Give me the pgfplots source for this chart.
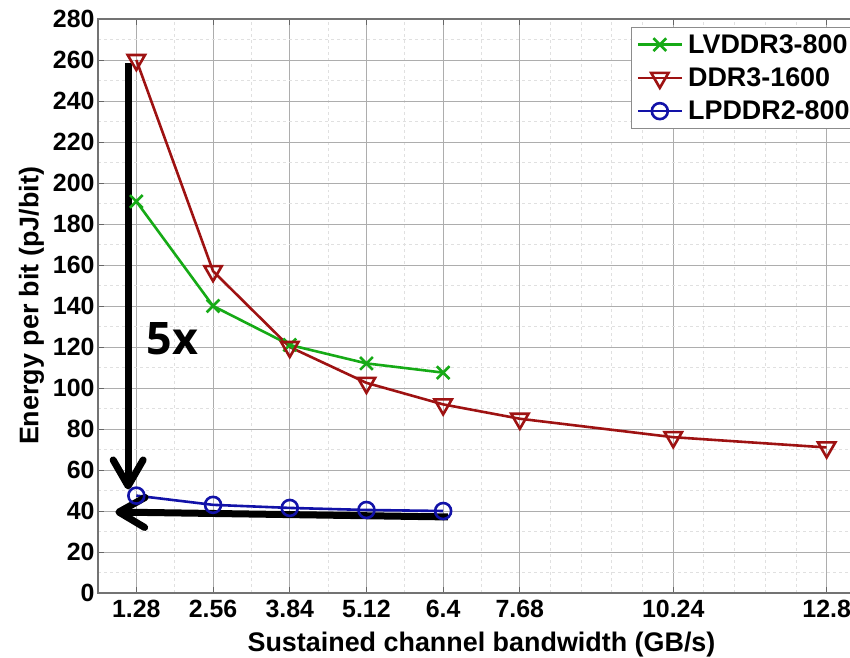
\documentclass[border=0pt]{standalone}
\usepackage{fontspec}
\setmainfont{Liberation Sans}
\newfontfamily\osb{Open Sans}
\usepackage{pgfplots}
\pgfplotsset{compat=1.18}
\usetikzlibrary{arrows.meta}
\definecolor{cgreen}{RGB}{22,170,22}
\definecolor{cred}{RGB}{158,18,18}
\definecolor{cblue}{RGB}{18,18,168}
\begin{document}
\begin{tikzpicture}
\begin{axis}[
  scale only axis, width=767bp, height=574bp,
  xmin=0.64, xmax=13.44, ymin=0, ymax=280,
  xtick={1.28,2.56,3.84,5.12,6.4,7.68,10.24,12.8},
  xticklabels={1.28,2.56,3.84,5.12,6.4,7.68,10.24,12.8},
  minor xtick={1.92,3.2,4.48,5.76,7.04,8.192,8.704,9.216,9.728,10.752,11.264,11.776,12.288},
  ytick={0,20,...,280},
  minor ytick={10,30,...,270},
  grid=both,
  major grid style={black!32, line width=0.9bp},
  minor grid style={black!12, dashed, line width=0.9bp},
  tick align=inside, major tick length=6bp, minor tick length=0bp,
  tick style={black!60, line width=0.9bp},
  axis line style={black!55, line width=1.2bp},
  /pgf/number format/assume math mode=true,
  tick label style={font=\fontsize{25}{25}\selectfont\bfseries},
  xticklabel style={yshift=-4bp},
  xlabel={Sustained channel bandwidth (GB/s)},
  ylabel={Energy per bit (pJ/bit)},
  xlabel style={font=\fontsize{27}{27}\selectfont\bfseries, yshift=-7bp},
  ylabel style={font=\fontsize{27}{27}\selectfont\bfseries, yshift=2bp},
  legend style={at={(0.695,0.986)}, anchor=north west, draw=black!45, line width=0.9bp,
    font=\fontsize{27}{27}\selectfont\bfseries, row sep=9bp, inner sep=5bp,
    legend cell align=left, nodes={inner xsep=5bp}},
  legend image code/.code={\draw[mark repeat=2,mark phase=2] plot coordinates {(0bp,0bp) (22bp,0bp) (44bp,0bp)};},
]
\coordinate (A) at (rel axis cs:0,0);
\addplot[cgreen, line width=2.6bp, mark=x, mark size=9bp, mark options={line width=2.6bp}]
  coordinates {(1.28,191) (2.56,140) (3.84,121) (5.12,112) (6.4,107.5)};
\addlegendentry{LVDDR3-800}
\addplot[cred, line width=2.6bp, mark=triangle, mark size=10bp, mark options={rotate=180, line width=2.6bp, fill=none}]
  coordinates {(1.28,260) (2.56,157) (3.84,120) (5.12,102.5) (6.4,92) (7.68,85) (10.24,76) (12.8,71)};
\addlegendentry{DDR3-1600}
\addplot[cblue, line width=2.6bp, mark=o, mark size=8bp, mark options={line width=2.6bp}]
  coordinates {(1.28,47.5) (2.56,43) (3.84,41.5) (5.12,40.5) (6.4,40)};
\addlegendentry{LPDDR2-800}
\draw[black, line width=7bp, -{Straight Barb[length=26bp,width=30bp,round]}]
  (axis cs:1.143,258.5) -- (axis cs:1.143,50.5);
\draw[black, line width=7bp, -{Straight Barb[length=26bp,width=30bp,round]}]
  (axis cs:6.48,37.1) -- (axis cs:0.93,39.5);
\node[font=\fontsize{45}{45}\osb\bfseries] at (axis cs:1.878,124.1) {5x};
\end{axis}
\pgfresetboundingbox
\path[use as bounding box] (A) ++(-98bp,-65bp) rectangle ++(850bp,658bp);
\end{tikzpicture}
\end{document}
